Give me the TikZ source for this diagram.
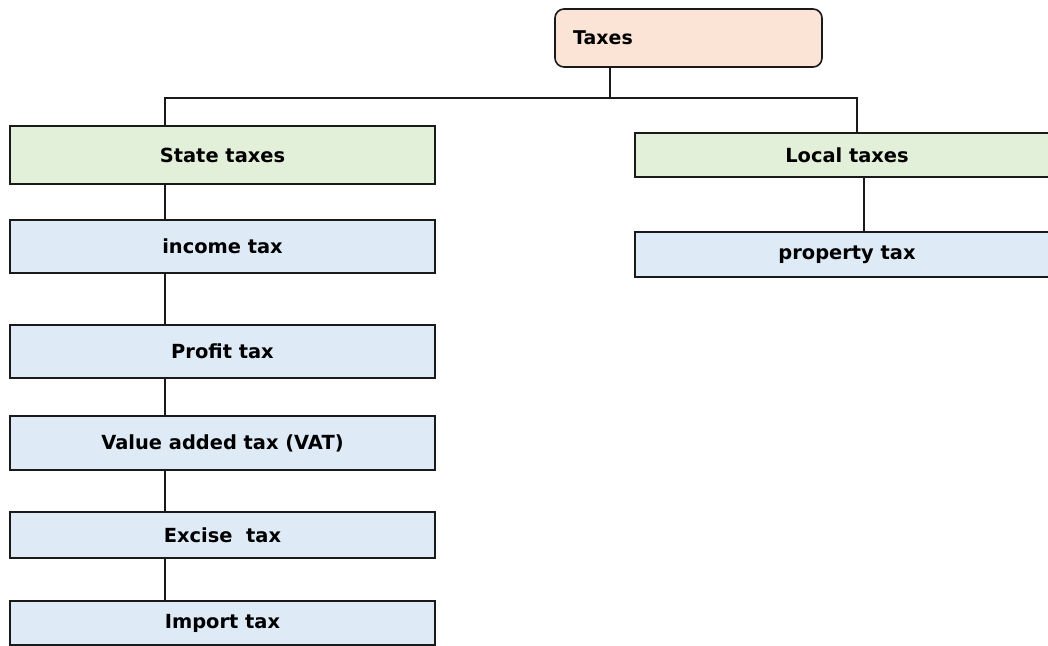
\documentclass[tikz,border=0pt]{standalone}
\usepackage{fontspec}
\setmainfont{DejaVu Sans}
\definecolor{peach}{HTML}{FBE4D5}
\definecolor{lgreen}{HTML}{E2EFD9}
\definecolor{lblue}{HTML}{DEEAF6}
\definecolor{edge}{HTML}{1A1A1A}
\begin{document}
\begin{tikzpicture}[x=1bp,y=-1bp,
  box/.style={draw=edge,line width=1.6bp,minimum width=#1,inner sep=0pt,font=\fontsize{19.5}{22}\selectfont\bfseries},
  link/.style={draw=edge,line width=1.5bp},
  lbl/.style={inner sep=0pt,font=\fontsize{19}{22}\selectfont\bfseries}]
\useasboundingbox (0,0) rectangle (1048,646);
\clip (0,0) rectangle (1048,646);
% top
\node[box=267bp,fill=peach,rounded corners=9bp,minimum height=58bp] (taxes) at (688.5,38) {};
\node[lbl] (taxeslbl) at (603,38) {Taxes};
% left column
\node[box=425bp,fill=lgreen,minimum height=58bp] (state) at (222.5,155) {State taxes};
\node[box=425bp,fill=lblue,minimum height=53bp] (income) at (222.5,246.5) {income tax};
\node[box=425bp,fill=lblue,minimum height=53bp] (profit) at (222.5,351.5) {Profit tax};
\node[box=425bp,fill=lblue,minimum height=54bp] (vat) at (222.5,443) {Value added tax (VAT)};
\node[box=425bp,fill=lblue,minimum height=46bp] (excise) at (222.5,535) {Excise\ \ tax};
\node[box=425bp,fill=lblue,minimum height=44bp] (import) at (222.5,623) {Import tax};
% right column
\node[box=424bp,fill=lgreen,minimum height=44bp] (local) at (847,155) {Local taxes};
\node[box=424bp,fill=lblue,minimum height=45bp] (property) at (847,254.5) {property tax};
% connectors
\coordinate (tdrop) at (610,98);
\coordinate (busL) at (165,98);
\coordinate (busR) at (857,98);
\coordinate (rx) at (864,200);
\draw[draw=edge,line width=2.8bp] (tdrop |- taxes.south) -- (tdrop);
\draw[link] (busL |- state.north) -- (busL) -- (busR) -- (busR |- local.north);
\draw[link] (busL |- state.south) -- (busL |- income.north);
\draw[link] (busL |- income.south) -- (busL |- profit.north);
\draw[link] (busL |- profit.south) -- (busL |- vat.north);
\draw[link] (busL |- vat.south) -- (busL |- excise.north);
\draw[link] (busL |- excise.south) -- (busL |- import.north);
\draw[link] (rx |- local.south) -- (rx |- property.north);
\end{tikzpicture}
\end{document}
